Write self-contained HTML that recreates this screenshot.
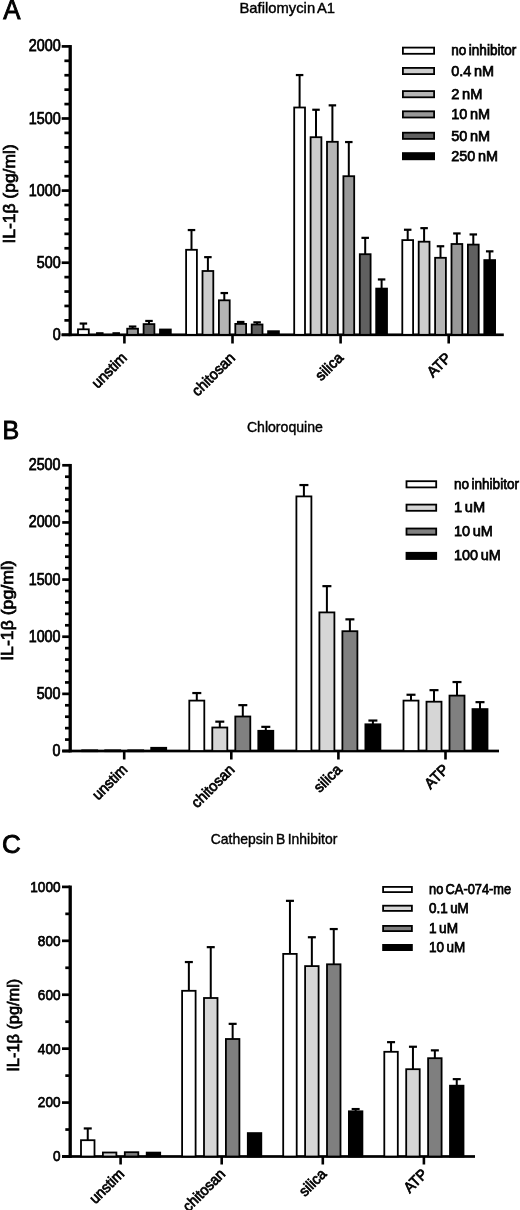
<!DOCTYPE html>
<html><head><meta charset="utf-8"><title>IL-1b inhibitor figure</title>
<style>
html,body{margin:0;padding:0;background:#fff;}
body{width:520px;height:1210px;overflow:hidden;}
svg{display:block;font-family:"Liberation Sans", sans-serif;filter:blur(0.55px);}
</style></head>
<body>
<svg width="520" height="1210" viewBox="0 0 520 1210">
<rect x="0" y="0" width="520" height="1210" fill="#fff"/>
<rect x="68.55" y="45.05" width="3.30" height="291.10" fill="#000"/>
<rect x="61.70" y="333.45" width="8.50" height="2.70" fill="#000"/>
<text x="60.80" y="339.80" font-size="15.8" text-anchor="end" textLength="8.0" lengthAdjust="spacingAndGlyphs" stroke="#000" stroke-width="0.75">0</text>
<rect x="64.40" y="319.03" width="5.80" height="2.70" fill="#000"/>
<rect x="64.40" y="304.61" width="5.80" height="2.70" fill="#000"/>
<rect x="64.40" y="290.19" width="5.80" height="2.70" fill="#000"/>
<rect x="64.40" y="275.77" width="5.80" height="2.70" fill="#000"/>
<rect x="61.70" y="261.35" width="8.50" height="2.70" fill="#000"/>
<text x="60.80" y="267.70" font-size="15.8" text-anchor="end" textLength="24.0" lengthAdjust="spacingAndGlyphs" stroke="#000" stroke-width="0.75">500</text>
<rect x="64.40" y="246.93" width="5.80" height="2.70" fill="#000"/>
<rect x="64.40" y="232.51" width="5.80" height="2.70" fill="#000"/>
<rect x="64.40" y="218.09" width="5.80" height="2.70" fill="#000"/>
<rect x="64.40" y="203.67" width="5.80" height="2.70" fill="#000"/>
<rect x="61.70" y="189.25" width="8.50" height="2.70" fill="#000"/>
<text x="60.80" y="195.60" font-size="15.8" text-anchor="end" textLength="32.0" lengthAdjust="spacingAndGlyphs" stroke="#000" stroke-width="0.75">1000</text>
<rect x="64.40" y="174.83" width="5.80" height="2.70" fill="#000"/>
<rect x="64.40" y="160.41" width="5.80" height="2.70" fill="#000"/>
<rect x="64.40" y="145.99" width="5.80" height="2.70" fill="#000"/>
<rect x="64.40" y="131.57" width="5.80" height="2.70" fill="#000"/>
<rect x="61.70" y="117.15" width="8.50" height="2.70" fill="#000"/>
<text x="60.80" y="123.50" font-size="15.8" text-anchor="end" textLength="32.0" lengthAdjust="spacingAndGlyphs" stroke="#000" stroke-width="0.75">1500</text>
<rect x="64.40" y="102.73" width="5.80" height="2.70" fill="#000"/>
<rect x="64.40" y="88.31" width="5.80" height="2.70" fill="#000"/>
<rect x="64.40" y="73.89" width="5.80" height="2.70" fill="#000"/>
<rect x="64.40" y="59.47" width="5.80" height="2.70" fill="#000"/>
<rect x="61.70" y="45.05" width="8.50" height="2.70" fill="#000"/>
<text x="60.80" y="51.40" font-size="15.8" text-anchor="end" textLength="32.0" lengthAdjust="spacingAndGlyphs" stroke="#000" stroke-width="0.75">2000</text>
<rect x="61.60" y="333.45" width="442.20" height="2.70" fill="#000"/>
<rect x="82.40" y="323.55" width="2.00" height="5.85" fill="#000"/>
<rect x="79.65" y="322.45" width="7.50" height="2.20" fill="#000"/>
<rect x="78.00" y="329.30" width="10.80" height="5.50" fill="#ffffff" stroke="#000" stroke-width="1.8"/>
<rect x="96.05" y="332.20" width="7.50" height="2.60" fill="#000"/>
<rect x="112.45" y="332.20" width="7.50" height="2.60" fill="#000"/>
<rect x="131.60" y="326.55" width="2.00" height="2.25" fill="#000"/>
<rect x="128.85" y="325.45" width="7.50" height="2.20" fill="#000"/>
<rect x="127.20" y="328.70" width="10.80" height="6.10" fill="#989898" stroke="#000" stroke-width="1.8"/>
<rect x="148.00" y="320.95" width="2.00" height="3.25" fill="#000"/>
<rect x="145.25" y="319.85" width="7.50" height="2.20" fill="#000"/>
<rect x="143.60" y="324.10" width="10.80" height="10.70" fill="#606060" stroke="#000" stroke-width="1.8"/>
<rect x="160.00" y="329.50" width="10.80" height="5.30" fill="#000000" stroke="#000" stroke-width="1.8"/>
<rect x="123.10" y="334.80" width="2.60" height="8.70" fill="#000"/>
<text x="0.00" y="0.00" font-size="15" text-anchor="end" textLength="42.71" lengthAdjust="spacingAndGlyphs" transform="translate(127.90,358.80) rotate(-45)" stroke="#000" stroke-width="0.75">unstim</text>
<rect x="190.50" y="230.05" width="2.00" height="19.85" fill="#000"/>
<rect x="187.75" y="228.95" width="7.50" height="2.20" fill="#000"/>
<rect x="186.10" y="249.80" width="10.80" height="85.00" fill="#ffffff" stroke="#000" stroke-width="1.8"/>
<rect x="206.90" y="257.15" width="2.00" height="13.95" fill="#000"/>
<rect x="204.15" y="256.05" width="7.50" height="2.20" fill="#000"/>
<rect x="202.50" y="271.00" width="10.80" height="63.80" fill="#cdcdcd" stroke="#000" stroke-width="1.8"/>
<rect x="223.30" y="293.05" width="2.00" height="7.35" fill="#000"/>
<rect x="220.55" y="291.95" width="7.50" height="2.20" fill="#000"/>
<rect x="218.90" y="300.30" width="10.80" height="34.50" fill="#b5b5b5" stroke="#000" stroke-width="1.8"/>
<rect x="239.70" y="321.95" width="2.00" height="2.05" fill="#000"/>
<rect x="236.95" y="320.85" width="7.50" height="2.20" fill="#000"/>
<rect x="235.30" y="323.90" width="10.80" height="10.90" fill="#989898" stroke="#000" stroke-width="1.8"/>
<rect x="256.10" y="322.35" width="2.00" height="2.25" fill="#000"/>
<rect x="253.35" y="321.25" width="7.50" height="2.20" fill="#000"/>
<rect x="251.70" y="324.50" width="10.80" height="10.30" fill="#606060" stroke="#000" stroke-width="1.8"/>
<rect x="268.10" y="331.20" width="10.80" height="3.60" fill="#000000" stroke="#000" stroke-width="1.8"/>
<rect x="231.20" y="334.80" width="2.60" height="8.70" fill="#000"/>
<text x="0.00" y="0.00" font-size="15" text-anchor="end" textLength="54.01" lengthAdjust="spacingAndGlyphs" transform="translate(236.00,358.80) rotate(-45)" stroke="#000" stroke-width="0.75">chitosan</text>
<rect x="298.60" y="75.05" width="2.00" height="32.55" fill="#000"/>
<rect x="295.85" y="73.95" width="7.50" height="2.20" fill="#000"/>
<rect x="294.20" y="107.50" width="10.80" height="227.30" fill="#ffffff" stroke="#000" stroke-width="1.8"/>
<rect x="315.00" y="109.75" width="2.00" height="27.55" fill="#000"/>
<rect x="312.25" y="108.65" width="7.50" height="2.20" fill="#000"/>
<rect x="310.60" y="137.20" width="10.80" height="197.60" fill="#cdcdcd" stroke="#000" stroke-width="1.8"/>
<rect x="331.40" y="105.35" width="2.00" height="36.55" fill="#000"/>
<rect x="328.65" y="104.25" width="7.50" height="2.20" fill="#000"/>
<rect x="327.00" y="141.80" width="10.80" height="193.00" fill="#b5b5b5" stroke="#000" stroke-width="1.8"/>
<rect x="347.80" y="142.05" width="2.00" height="34.25" fill="#000"/>
<rect x="345.05" y="140.95" width="7.50" height="2.20" fill="#000"/>
<rect x="343.40" y="176.20" width="10.80" height="158.60" fill="#989898" stroke="#000" stroke-width="1.8"/>
<rect x="364.20" y="237.85" width="2.00" height="16.45" fill="#000"/>
<rect x="361.45" y="236.75" width="7.50" height="2.20" fill="#000"/>
<rect x="359.80" y="254.20" width="10.80" height="80.60" fill="#606060" stroke="#000" stroke-width="1.8"/>
<rect x="380.60" y="279.45" width="2.00" height="9.25" fill="#000"/>
<rect x="377.85" y="278.35" width="7.50" height="2.20" fill="#000"/>
<rect x="376.20" y="288.60" width="10.80" height="46.20" fill="#000000" stroke="#000" stroke-width="1.8"/>
<rect x="339.30" y="334.80" width="2.60" height="8.70" fill="#000"/>
<text x="0.00" y="0.00" font-size="15" text-anchor="end" textLength="32.23" lengthAdjust="spacingAndGlyphs" transform="translate(344.10,358.80) rotate(-45)" stroke="#000" stroke-width="0.75">silica</text>
<rect x="406.70" y="229.75" width="2.00" height="10.45" fill="#000"/>
<rect x="403.95" y="228.65" width="7.50" height="2.20" fill="#000"/>
<rect x="402.30" y="240.10" width="10.80" height="94.70" fill="#ffffff" stroke="#000" stroke-width="1.8"/>
<rect x="423.10" y="228.15" width="2.00" height="13.65" fill="#000"/>
<rect x="420.35" y="227.05" width="7.50" height="2.20" fill="#000"/>
<rect x="418.70" y="241.70" width="10.80" height="93.10" fill="#cdcdcd" stroke="#000" stroke-width="1.8"/>
<rect x="439.50" y="246.25" width="2.00" height="11.65" fill="#000"/>
<rect x="436.75" y="245.15" width="7.50" height="2.20" fill="#000"/>
<rect x="435.10" y="257.80" width="10.80" height="77.00" fill="#b5b5b5" stroke="#000" stroke-width="1.8"/>
<rect x="455.90" y="233.45" width="2.00" height="10.65" fill="#000"/>
<rect x="453.15" y="232.35" width="7.50" height="2.20" fill="#000"/>
<rect x="451.50" y="244.00" width="10.80" height="90.80" fill="#989898" stroke="#000" stroke-width="1.8"/>
<rect x="472.30" y="234.45" width="2.00" height="10.25" fill="#000"/>
<rect x="469.55" y="233.35" width="7.50" height="2.20" fill="#000"/>
<rect x="467.90" y="244.60" width="10.80" height="90.20" fill="#606060" stroke="#000" stroke-width="1.8"/>
<rect x="488.70" y="251.35" width="2.00" height="8.85" fill="#000"/>
<rect x="485.95" y="250.25" width="7.50" height="2.20" fill="#000"/>
<rect x="484.30" y="260.10" width="10.80" height="74.70" fill="#000000" stroke="#000" stroke-width="1.8"/>
<rect x="447.40" y="334.80" width="2.60" height="8.70" fill="#000"/>
<text x="0.00" y="0.00" font-size="15" text-anchor="end" textLength="27.13" lengthAdjust="spacingAndGlyphs" transform="translate(452.20,358.80) rotate(-45)" stroke="#000" stroke-width="0.75">ATP</text>
<rect x="402.90" y="47.60" width="31.20" height="6.20" fill="#ffffff" stroke="#000" stroke-width="1.8"/>
<text x="451.30" y="55.40" font-size="15.3" text-anchor="start" textLength="65" lengthAdjust="spacingAndGlyphs" stroke="#000" stroke-width="0.75" word-spacing="-1.5">no inhibitor</text>
<rect x="402.90" y="67.90" width="31.20" height="6.20" fill="#cdcdcd" stroke="#000" stroke-width="1.8"/>
<text x="451.30" y="75.70" font-size="15.3" text-anchor="start" textLength="42.8" lengthAdjust="spacingAndGlyphs" stroke="#000" stroke-width="0.75" word-spacing="-1.5">0.4 nM</text>
<rect x="402.90" y="91.10" width="31.20" height="6.20" fill="#b5b5b5" stroke="#000" stroke-width="1.8"/>
<text x="451.30" y="98.90" font-size="15.3" text-anchor="start" textLength="31.12" lengthAdjust="spacingAndGlyphs" stroke="#000" stroke-width="0.75" word-spacing="-1.5">2 nM</text>
<rect x="402.90" y="111.30" width="31.20" height="6.20" fill="#989898" stroke="#000" stroke-width="1.8"/>
<text x="451.30" y="119.10" font-size="15.3" text-anchor="start" textLength="38.91" lengthAdjust="spacingAndGlyphs" stroke="#000" stroke-width="0.75" word-spacing="-1.5">10 nM</text>
<rect x="402.90" y="132.70" width="31.20" height="6.20" fill="#606060" stroke="#000" stroke-width="1.8"/>
<text x="451.30" y="140.50" font-size="15.3" text-anchor="start" textLength="38.91" lengthAdjust="spacingAndGlyphs" stroke="#000" stroke-width="0.75" word-spacing="-1.5">50 nM</text>
<rect x="402.90" y="153.10" width="31.20" height="6.20" fill="#000000" stroke="#000" stroke-width="1.8"/>
<text x="451.30" y="160.90" font-size="15.3" text-anchor="start" textLength="46.7" lengthAdjust="spacingAndGlyphs" stroke="#000" stroke-width="0.75" word-spacing="-1.5">250 nM</text>
<text x="239.50" y="12.70" font-size="14.8" text-anchor="start" textLength="95.5" lengthAdjust="spacingAndGlyphs" stroke="#000" stroke-width="0.4" word-spacing="-1.5">Bafilomycin A1</text>
<text x="3.20" y="19.10" font-size="27" text-anchor="start" textLength="17.2" lengthAdjust="spacingAndGlyphs" stroke="#000" stroke-width="0.9">A</text>
<text x="0.00" y="0.00" font-size="16.3" text-anchor="start" textLength="99.3" lengthAdjust="spacingAndGlyphs" transform="translate(15.00,243.60) rotate(-90)" stroke="#000" stroke-width="0.7">IL-1β (pg/ml)</text>
<rect x="68.55" y="463.95" width="3.30" height="288.40" fill="#000"/>
<rect x="62.20" y="749.65" width="8.00" height="2.70" fill="#000"/>
<text x="60.50" y="756.00" font-size="15.8" text-anchor="end" textLength="7.95" lengthAdjust="spacingAndGlyphs" stroke="#000" stroke-width="0.75">0</text>
<rect x="65.00" y="738.22" width="5.20" height="2.70" fill="#000"/>
<rect x="65.00" y="726.79" width="5.20" height="2.70" fill="#000"/>
<rect x="65.00" y="715.37" width="5.20" height="2.70" fill="#000"/>
<rect x="65.00" y="703.94" width="5.20" height="2.70" fill="#000"/>
<rect x="62.20" y="692.51" width="8.00" height="2.70" fill="#000"/>
<text x="60.50" y="698.86" font-size="15.8" text-anchor="end" textLength="23.85" lengthAdjust="spacingAndGlyphs" stroke="#000" stroke-width="0.75">500</text>
<rect x="65.00" y="681.08" width="5.20" height="2.70" fill="#000"/>
<rect x="65.00" y="669.65" width="5.20" height="2.70" fill="#000"/>
<rect x="65.00" y="658.23" width="5.20" height="2.70" fill="#000"/>
<rect x="65.00" y="646.80" width="5.20" height="2.70" fill="#000"/>
<rect x="62.20" y="635.37" width="8.00" height="2.70" fill="#000"/>
<text x="60.50" y="641.72" font-size="15.8" text-anchor="end" textLength="31.8" lengthAdjust="spacingAndGlyphs" stroke="#000" stroke-width="0.75">1000</text>
<rect x="65.00" y="623.94" width="5.20" height="2.70" fill="#000"/>
<rect x="65.00" y="612.51" width="5.20" height="2.70" fill="#000"/>
<rect x="65.00" y="601.09" width="5.20" height="2.70" fill="#000"/>
<rect x="65.00" y="589.66" width="5.20" height="2.70" fill="#000"/>
<rect x="62.20" y="578.23" width="8.00" height="2.70" fill="#000"/>
<text x="60.50" y="584.58" font-size="15.8" text-anchor="end" textLength="31.8" lengthAdjust="spacingAndGlyphs" stroke="#000" stroke-width="0.75">1500</text>
<rect x="65.00" y="566.80" width="5.20" height="2.70" fill="#000"/>
<rect x="65.00" y="555.37" width="5.20" height="2.70" fill="#000"/>
<rect x="65.00" y="543.95" width="5.20" height="2.70" fill="#000"/>
<rect x="65.00" y="532.52" width="5.20" height="2.70" fill="#000"/>
<rect x="62.20" y="521.09" width="8.00" height="2.70" fill="#000"/>
<text x="60.50" y="527.44" font-size="15.8" text-anchor="end" textLength="31.8" lengthAdjust="spacingAndGlyphs" stroke="#000" stroke-width="0.75">2000</text>
<rect x="65.00" y="509.66" width="5.20" height="2.70" fill="#000"/>
<rect x="65.00" y="498.23" width="5.20" height="2.70" fill="#000"/>
<rect x="65.00" y="486.81" width="5.20" height="2.70" fill="#000"/>
<rect x="65.00" y="475.38" width="5.20" height="2.70" fill="#000"/>
<rect x="62.20" y="463.95" width="8.00" height="2.70" fill="#000"/>
<text x="60.50" y="470.30" font-size="15.8" text-anchor="end" textLength="31.8" lengthAdjust="spacingAndGlyphs" stroke="#000" stroke-width="0.75">2500</text>
<rect x="62.20" y="749.65" width="436.80" height="2.70" fill="#000"/>
<rect x="82.20" y="750.30" width="15.00" height="0.90" fill="#ffffff" stroke="#000" stroke-width="1.8"/>
<rect x="105.20" y="750.30" width="15.00" height="0.90" fill="#d6d6d6" stroke="#000" stroke-width="1.8"/>
<rect x="128.20" y="750.30" width="15.00" height="0.90" fill="#808080" stroke="#000" stroke-width="1.8"/>
<rect x="151.20" y="747.80" width="15.00" height="3.20" fill="#000000" stroke="#000" stroke-width="1.8"/>
<rect x="122.90" y="751.00" width="2.60" height="8.50" fill="#000"/>
<text x="0.00" y="0.00" font-size="15" text-anchor="end" textLength="42.71" lengthAdjust="spacingAndGlyphs" transform="translate(128.40,770.50) rotate(-45)" stroke="#000" stroke-width="0.75">unstim</text>
<rect x="195.80" y="693.05" width="2.00" height="7.65" fill="#000"/>
<rect x="192.30" y="691.95" width="9.00" height="2.20" fill="#000"/>
<rect x="189.30" y="700.60" width="15.00" height="50.40" fill="#ffffff" stroke="#000" stroke-width="1.8"/>
<rect x="218.80" y="721.65" width="2.00" height="5.95" fill="#000"/>
<rect x="215.30" y="720.55" width="9.00" height="2.20" fill="#000"/>
<rect x="212.30" y="727.50" width="15.00" height="23.50" fill="#d6d6d6" stroke="#000" stroke-width="1.8"/>
<rect x="241.80" y="705.15" width="2.00" height="11.45" fill="#000"/>
<rect x="238.30" y="704.05" width="9.00" height="2.20" fill="#000"/>
<rect x="235.30" y="716.50" width="15.00" height="34.50" fill="#808080" stroke="#000" stroke-width="1.8"/>
<rect x="264.80" y="726.85" width="2.00" height="4.05" fill="#000"/>
<rect x="261.30" y="725.75" width="9.00" height="2.20" fill="#000"/>
<rect x="258.30" y="730.80" width="15.00" height="20.20" fill="#000000" stroke="#000" stroke-width="1.8"/>
<rect x="230.00" y="751.00" width="2.60" height="8.50" fill="#000"/>
<text x="0.00" y="0.00" font-size="15" text-anchor="end" textLength="54.01" lengthAdjust="spacingAndGlyphs" transform="translate(235.50,770.50) rotate(-45)" stroke="#000" stroke-width="0.75">chitosan</text>
<rect x="302.90" y="485.05" width="2.00" height="11.45" fill="#000"/>
<rect x="299.40" y="483.95" width="9.00" height="2.20" fill="#000"/>
<rect x="296.40" y="496.40" width="15.00" height="254.60" fill="#ffffff" stroke="#000" stroke-width="1.8"/>
<rect x="325.90" y="586.15" width="2.00" height="26.35" fill="#000"/>
<rect x="322.40" y="585.05" width="9.00" height="2.20" fill="#000"/>
<rect x="319.40" y="612.40" width="15.00" height="138.60" fill="#d6d6d6" stroke="#000" stroke-width="1.8"/>
<rect x="348.90" y="619.35" width="2.00" height="11.95" fill="#000"/>
<rect x="345.40" y="618.25" width="9.00" height="2.20" fill="#000"/>
<rect x="342.40" y="631.20" width="15.00" height="119.80" fill="#808080" stroke="#000" stroke-width="1.8"/>
<rect x="371.90" y="720.55" width="2.00" height="3.85" fill="#000"/>
<rect x="368.40" y="719.45" width="9.00" height="2.20" fill="#000"/>
<rect x="365.40" y="724.30" width="15.00" height="26.70" fill="#000000" stroke="#000" stroke-width="1.8"/>
<rect x="337.10" y="751.00" width="2.60" height="8.50" fill="#000"/>
<text x="0.00" y="0.00" font-size="15" text-anchor="end" textLength="32.23" lengthAdjust="spacingAndGlyphs" transform="translate(342.60,770.50) rotate(-45)" stroke="#000" stroke-width="0.75">silica</text>
<rect x="410.00" y="694.75" width="2.00" height="5.95" fill="#000"/>
<rect x="406.50" y="693.65" width="9.00" height="2.20" fill="#000"/>
<rect x="403.50" y="700.60" width="15.00" height="50.40" fill="#ffffff" stroke="#000" stroke-width="1.8"/>
<rect x="433.00" y="690.15" width="2.00" height="11.65" fill="#000"/>
<rect x="429.50" y="689.05" width="9.00" height="2.20" fill="#000"/>
<rect x="426.50" y="701.70" width="15.00" height="49.30" fill="#d6d6d6" stroke="#000" stroke-width="1.8"/>
<rect x="456.00" y="682.05" width="2.00" height="13.65" fill="#000"/>
<rect x="452.50" y="680.95" width="9.00" height="2.20" fill="#000"/>
<rect x="449.50" y="695.60" width="15.00" height="55.40" fill="#808080" stroke="#000" stroke-width="1.8"/>
<rect x="479.00" y="702.15" width="2.00" height="7.05" fill="#000"/>
<rect x="475.50" y="701.05" width="9.00" height="2.20" fill="#000"/>
<rect x="472.50" y="709.10" width="15.00" height="41.90" fill="#000000" stroke="#000" stroke-width="1.8"/>
<rect x="444.20" y="751.00" width="2.60" height="8.50" fill="#000"/>
<text x="0.00" y="0.00" font-size="15" text-anchor="end" textLength="27.13" lengthAdjust="spacingAndGlyphs" transform="translate(449.70,770.50) rotate(-45)" stroke="#000" stroke-width="0.75">ATP</text>
<rect x="406.50" y="481.20" width="29.70" height="6.20" fill="#ffffff" stroke="#000" stroke-width="1.8"/>
<text x="454.00" y="488.80" font-size="15.3" text-anchor="start" textLength="65" lengthAdjust="spacingAndGlyphs" stroke="#000" stroke-width="0.75" word-spacing="-1.5">no inhibitor</text>
<rect x="406.50" y="504.60" width="29.70" height="6.20" fill="#d6d6d6" stroke="#000" stroke-width="1.8"/>
<text x="454.00" y="512.20" font-size="15.3" text-anchor="start" textLength="31.12" lengthAdjust="spacingAndGlyphs" stroke="#000" stroke-width="0.75" word-spacing="-1.5">1 uM</text>
<rect x="406.50" y="528.50" width="29.70" height="6.20" fill="#808080" stroke="#000" stroke-width="1.8"/>
<text x="454.00" y="536.10" font-size="15.3" text-anchor="start" textLength="38.91" lengthAdjust="spacingAndGlyphs" stroke="#000" stroke-width="0.75" word-spacing="-1.5">10 uM</text>
<rect x="406.50" y="552.80" width="29.70" height="6.20" fill="#000000" stroke="#000" stroke-width="1.8"/>
<text x="454.00" y="560.40" font-size="15.3" text-anchor="start" textLength="46.7" lengthAdjust="spacingAndGlyphs" stroke="#000" stroke-width="0.75" word-spacing="-1.5">100 uM</text>
<text x="246.90" y="431.60" font-size="14" text-anchor="start" textLength="76" lengthAdjust="spacingAndGlyphs" stroke="#000" stroke-width="0.4" word-spacing="-1.5">Chloroquine</text>
<text x="2.50" y="439.20" font-size="25" text-anchor="start" stroke="#000" stroke-width="0.9">B</text>
<text x="0.00" y="0.00" font-size="16.3" text-anchor="start" textLength="100.5" lengthAdjust="spacingAndGlyphs" transform="translate(12.90,660.80) rotate(-90)" stroke="#000" stroke-width="0.7">IL-1β (pg/ml)</text>
<rect x="68.55" y="885.55" width="3.30" height="272.30" fill="#000"/>
<rect x="62.00" y="1155.15" width="8.20" height="2.70" fill="#000"/>
<text x="60.50" y="1161.40" font-size="15.5" text-anchor="end" textLength="7.55" lengthAdjust="spacingAndGlyphs" stroke="#000" stroke-width="0.75">0</text>
<rect x="65.30" y="1128.19" width="4.90" height="2.70" fill="#000"/>
<rect x="62.00" y="1101.23" width="8.20" height="2.70" fill="#000"/>
<text x="60.50" y="1107.48" font-size="15.5" text-anchor="end" textLength="22.65" lengthAdjust="spacingAndGlyphs" stroke="#000" stroke-width="0.75">200</text>
<rect x="65.30" y="1074.27" width="4.90" height="2.70" fill="#000"/>
<rect x="62.00" y="1047.31" width="8.20" height="2.70" fill="#000"/>
<text x="60.50" y="1053.56" font-size="15.5" text-anchor="end" textLength="22.65" lengthAdjust="spacingAndGlyphs" stroke="#000" stroke-width="0.75">400</text>
<rect x="65.30" y="1020.35" width="4.90" height="2.70" fill="#000"/>
<rect x="62.00" y="993.39" width="8.20" height="2.70" fill="#000"/>
<text x="60.50" y="999.64" font-size="15.5" text-anchor="end" textLength="22.65" lengthAdjust="spacingAndGlyphs" stroke="#000" stroke-width="0.75">600</text>
<rect x="65.30" y="966.43" width="4.90" height="2.70" fill="#000"/>
<rect x="62.00" y="939.47" width="8.20" height="2.70" fill="#000"/>
<text x="60.50" y="945.72" font-size="15.5" text-anchor="end" textLength="22.65" lengthAdjust="spacingAndGlyphs" stroke="#000" stroke-width="0.75">800</text>
<rect x="65.30" y="912.51" width="4.90" height="2.70" fill="#000"/>
<rect x="62.00" y="885.55" width="8.20" height="2.70" fill="#000"/>
<text x="60.50" y="891.80" font-size="15.5" text-anchor="end" textLength="30.2" lengthAdjust="spacingAndGlyphs" stroke="#000" stroke-width="0.75">1000</text>
<rect x="62.00" y="1155.15" width="413.00" height="2.70" fill="#000"/>
<rect x="86.75" y="1128.45" width="2.00" height="11.85" fill="#000"/>
<rect x="83.75" y="1127.35" width="8.00" height="2.20" fill="#000"/>
<rect x="81.00" y="1140.20" width="13.50" height="16.30" fill="#ffffff" stroke="#000" stroke-width="1.8"/>
<rect x="102.90" y="1152.50" width="13.50" height="4.00" fill="#d6d6d6" stroke="#000" stroke-width="1.8"/>
<rect x="124.80" y="1152.20" width="13.50" height="4.30" fill="#7f7f7f" stroke="#000" stroke-width="1.8"/>
<rect x="146.70" y="1152.60" width="13.50" height="3.90" fill="#000000" stroke="#000" stroke-width="1.8"/>
<rect x="119.30" y="1156.50" width="2.60" height="8.00" fill="#000"/>
<text x="0.00" y="0.00" font-size="15" text-anchor="end" textLength="41.82" lengthAdjust="spacingAndGlyphs" transform="translate(125.10,1175.00) rotate(-45)" stroke="#000" stroke-width="0.75">unstim</text>
<rect x="187.85" y="962.05" width="2.00" height="28.85" fill="#000"/>
<rect x="184.85" y="960.95" width="8.00" height="2.20" fill="#000"/>
<rect x="182.10" y="990.80" width="13.50" height="165.70" fill="#ffffff" stroke="#000" stroke-width="1.8"/>
<rect x="209.75" y="947.15" width="2.00" height="50.95" fill="#000"/>
<rect x="206.75" y="946.05" width="8.00" height="2.20" fill="#000"/>
<rect x="204.00" y="998.00" width="13.50" height="158.50" fill="#d6d6d6" stroke="#000" stroke-width="1.8"/>
<rect x="231.65" y="1023.85" width="2.00" height="15.25" fill="#000"/>
<rect x="228.65" y="1022.75" width="8.00" height="2.20" fill="#000"/>
<rect x="225.90" y="1039.00" width="13.50" height="117.50" fill="#7f7f7f" stroke="#000" stroke-width="1.8"/>
<rect x="247.80" y="1133.10" width="13.50" height="23.40" fill="#000000" stroke="#000" stroke-width="1.8"/>
<rect x="220.40" y="1156.50" width="2.60" height="8.00" fill="#000"/>
<text x="0.00" y="0.00" font-size="15" text-anchor="end" textLength="52.89" lengthAdjust="spacingAndGlyphs" transform="translate(226.20,1175.00) rotate(-45)" stroke="#000" stroke-width="0.75">chitosan</text>
<rect x="288.95" y="900.85" width="2.00" height="53.15" fill="#000"/>
<rect x="285.95" y="899.75" width="8.00" height="2.20" fill="#000"/>
<rect x="283.20" y="953.90" width="13.50" height="202.60" fill="#ffffff" stroke="#000" stroke-width="1.8"/>
<rect x="310.85" y="937.25" width="2.00" height="28.95" fill="#000"/>
<rect x="307.85" y="936.15" width="8.00" height="2.20" fill="#000"/>
<rect x="305.10" y="966.10" width="13.50" height="190.40" fill="#d6d6d6" stroke="#000" stroke-width="1.8"/>
<rect x="332.75" y="929.05" width="2.00" height="35.35" fill="#000"/>
<rect x="329.75" y="927.95" width="8.00" height="2.20" fill="#000"/>
<rect x="327.00" y="964.30" width="13.50" height="192.20" fill="#7f7f7f" stroke="#000" stroke-width="1.8"/>
<rect x="354.65" y="1109.05" width="2.00" height="2.35" fill="#000"/>
<rect x="351.65" y="1107.95" width="8.00" height="2.20" fill="#000"/>
<rect x="348.90" y="1111.30" width="13.50" height="45.20" fill="#000000" stroke="#000" stroke-width="1.8"/>
<rect x="321.50" y="1156.50" width="2.60" height="8.00" fill="#000"/>
<text x="0.00" y="0.00" font-size="15" text-anchor="end" textLength="31.56" lengthAdjust="spacingAndGlyphs" transform="translate(327.30,1175.00) rotate(-45)" stroke="#000" stroke-width="0.75">silica</text>
<rect x="390.05" y="1042.15" width="2.00" height="9.75" fill="#000"/>
<rect x="387.05" y="1041.05" width="8.00" height="2.20" fill="#000"/>
<rect x="384.30" y="1051.80" width="13.50" height="104.70" fill="#ffffff" stroke="#000" stroke-width="1.8"/>
<rect x="411.95" y="1046.75" width="2.00" height="22.55" fill="#000"/>
<rect x="408.95" y="1045.65" width="8.00" height="2.20" fill="#000"/>
<rect x="406.20" y="1069.20" width="13.50" height="87.30" fill="#d6d6d6" stroke="#000" stroke-width="1.8"/>
<rect x="433.85" y="1050.35" width="2.00" height="7.95" fill="#000"/>
<rect x="430.85" y="1049.25" width="8.00" height="2.20" fill="#000"/>
<rect x="428.10" y="1058.20" width="13.50" height="98.30" fill="#7f7f7f" stroke="#000" stroke-width="1.8"/>
<rect x="455.75" y="1079.15" width="2.00" height="6.65" fill="#000"/>
<rect x="452.75" y="1078.05" width="8.00" height="2.20" fill="#000"/>
<rect x="450.00" y="1085.70" width="13.50" height="70.80" fill="#000000" stroke="#000" stroke-width="1.8"/>
<rect x="422.60" y="1156.50" width="2.60" height="8.00" fill="#000"/>
<text x="0.00" y="0.00" font-size="15" text-anchor="end" textLength="26.56" lengthAdjust="spacingAndGlyphs" transform="translate(428.40,1175.00) rotate(-45)" stroke="#000" stroke-width="0.75">ATP</text>
<rect x="383.10" y="886.90" width="28.80" height="5.20" fill="#ffffff" stroke="#000" stroke-width="1.8"/>
<text x="429.10" y="894.20" font-size="14.6" text-anchor="start" textLength="82" lengthAdjust="spacingAndGlyphs" stroke="#000" stroke-width="0.75" word-spacing="-1.5">no CA-074-me</text>
<rect x="383.10" y="905.70" width="28.80" height="5.20" fill="#d6d6d6" stroke="#000" stroke-width="1.8"/>
<text x="429.10" y="913.00" font-size="14.6" text-anchor="start" textLength="39.74" lengthAdjust="spacingAndGlyphs" stroke="#000" stroke-width="0.75" word-spacing="-1.5">0.1 uM</text>
<rect x="383.10" y="925.90" width="28.80" height="5.20" fill="#7f7f7f" stroke="#000" stroke-width="1.8"/>
<text x="429.10" y="933.20" font-size="14.6" text-anchor="start" textLength="28.9" lengthAdjust="spacingAndGlyphs" stroke="#000" stroke-width="0.75" word-spacing="-1.5">1 uM</text>
<rect x="383.10" y="944.90" width="28.80" height="5.20" fill="#000000" stroke="#000" stroke-width="1.8"/>
<text x="429.10" y="952.20" font-size="14.6" text-anchor="start" textLength="36.13" lengthAdjust="spacingAndGlyphs" stroke="#000" stroke-width="0.75" word-spacing="-1.5">10 uM</text>
<text x="210.80" y="844.00" font-size="14.2" text-anchor="start" textLength="126.5" lengthAdjust="spacingAndGlyphs" stroke="#000" stroke-width="0.4" word-spacing="-1.5">Cathepsin B Inhibitor</text>
<text x="2.00" y="852.80" font-size="26" text-anchor="start" stroke="#000" stroke-width="0.9">C</text>
<text x="0.00" y="0.00" font-size="16" text-anchor="start" textLength="93" lengthAdjust="spacingAndGlyphs" transform="translate(19.40,1071.70) rotate(-90)" stroke="#000" stroke-width="0.7">IL-1β (pg/ml)</text>
</svg>
</body></html>
